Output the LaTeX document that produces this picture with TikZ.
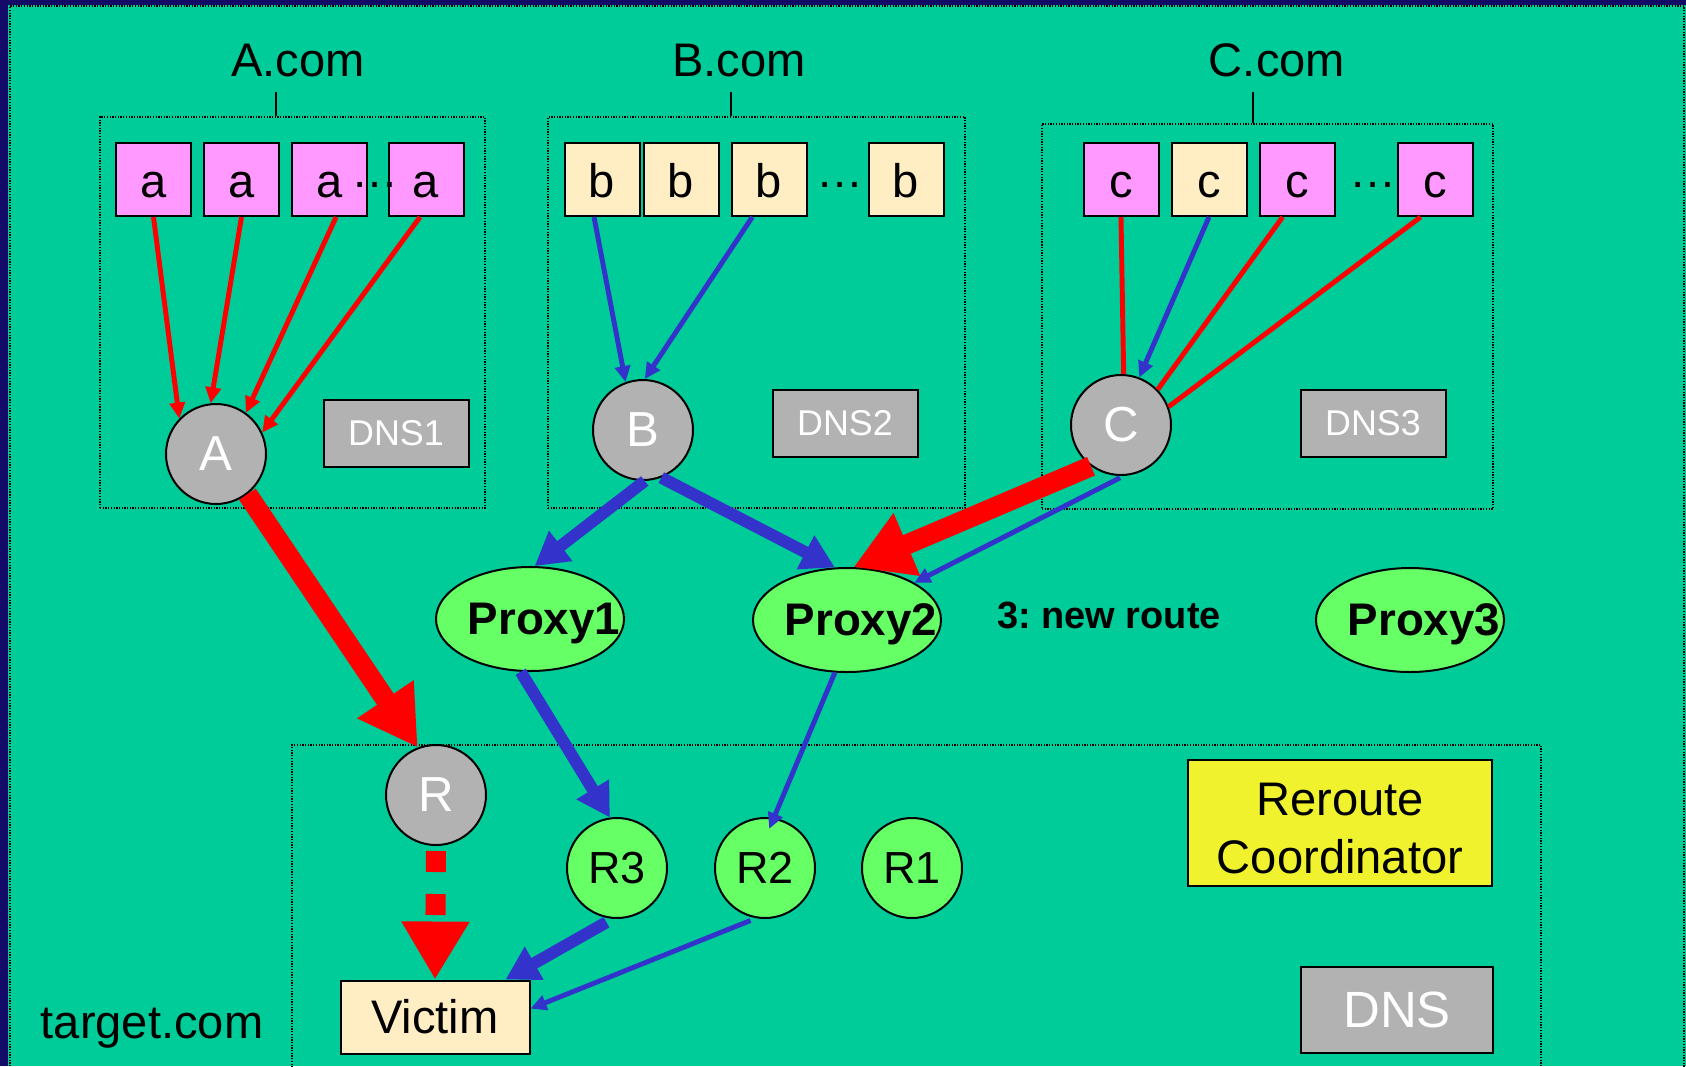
\documentclass[tikz,border=0pt]{standalone}
\usepackage{fontspec}
\setmainfont{Liberation Sans}
\usetikzlibrary{arrows.meta,shapes.geometric}

\definecolor{slidenavy}{RGB}{18,12,104}
\definecolor{slideteal}{RGB}{0,204,153}
\definecolor{hostpink}{RGB}{255,153,255}
\definecolor{hostcream}{RGB}{255,238,196}
\definecolor{hubgray}{RGB}{178,178,178}
\definecolor{nodegreen}{RGB}{102,255,102}
\definecolor{coordyellow}{RGB}{240,242,46}
\definecolor{routeblue}{RGB}{51,51,204}
\definecolor{attackred}{RGB}{255,0,0}

% proxy text, kept out of the ellipse size
\newcommand{\proxylabel}[1]{\makebox[0pt]{\hspace{2.8mm}#1}}

\begin{document}
\begin{tikzpicture}[x=0.1mm,y=-0.1mm]
\tikzset{every node/.style={font=\fontsize{13.4}{16}\selectfont},
  zone/.style={draw, line width=0.4pt, dash pattern=on 0.37pt off 0.4pt},
  host/.style={draw, line width=0.57pt, minimum width=7.5mm, minimum height=7.3mm,
    inner sep=0pt, text height=3.5mm, text depth=0pt},
  hub/.style={circle, draw, line width=0.57pt, fill=hubgray, text=white,
    minimum size=10mm, inner sep=0pt, font=\fontsize{14}{16}\selectfont},
  dnsbox/.style={draw, line width=0.57pt, fill=hubgray, text=white,
    minimum width=14.5mm, minimum height=6.7mm, font=\fontsize{10.2}{12}\selectfont},
  proxy/.style={ellipse, draw, line width=0.57pt, fill=nodegreen, minimum width=18.8mm,
    minimum height=10.4mm, inner sep=0pt, text depth=0pt,
    font=\bfseries\fontsize{13}{15}\selectfont},
  router/.style={circle, draw, line width=0.57pt, fill=nodegreen, minimum size=10mm,
    inner sep=0pt, font=\fontsize{12.8}{15}\selectfont},
  thinline/.style={line width=1.4pt},
  thinarrow/.style={line width=1.4pt, -{Triangle[length=1.6mm, width=1.5mm]}},
  widearrow/.style={routeblue, line width=3.4pt, -{Triangle[length=3.3mm, width=3.6mm]}},
  floodarrow/.style={attackred, line width=5.7pt, -{Triangle[length=5.8mm, width=6.4mm]}}}
\useasboundingbox (0,0) rectangle (1686,1066);
\clip (0,0) rectangle (1686,1066);

% slide background
\fill[slidenavy] (0,0) rectangle (1686,1066);
\fill[slideteal] (8,5) rectangle (1686,1066);
\draw[zone] (10,1080) -- (10,6) -- (1684,6) -- (1684,1080);

% zones of each domain
\node[zone, minimum width=38.5mm, minimum height=39.1mm] (abox) at (292.5,312.5) {};
\node[zone, minimum width=41.7mm, minimum height=39.1mm] (bbox) at (756.5,312.5) {};
\node[zone, minimum width=45.1mm, minimum height=38.5mm] (cbox) at (1267.5,316.5) {};
\node[zone, minimum width=124.9mm, minimum height=35.5mm] (tbox) at (916.5,922.5) {};

\node[anchor=base] (acom) at (298,76) {A.com};
\node[anchor=base] (bcom) at (739,76) {B.com};
\node[anchor=base] (ccom) at (1277,76) {C.com};
\coordinate (atick) at (276,92);
\coordinate (btick) at (731,92);
\coordinate (ctick) at (1253,92);
\draw[line width=0.4pt] (atick) -- (atick |- abox.north);
\draw[line width=0.4pt] (btick) -- (btick |- bbox.north);
\draw[line width=0.4pt] (ctick) -- (ctick |- cbox.north);

% clients
\node[host, fill=hostpink] (a1) at (153.5,179.5) {a};
\node[host, fill=hostpink] (a2) at (241.5,179.5) {a};
\node[host, fill=hostpink] (a3) at (329.5,179.5) {a};
\node[host, fill=hostpink] (a4) at (426,179.5) {a};
\node[host, fill=hostcream] (b1) at (602,179.5) {b};
\node[host, fill=hostcream] (b2) at (681,179.5) {b};
\node[host, fill=hostcream] (b3) at (769,179.5) {b};
\node[host, fill=hostcream] (b4) at (906,179.5) {b};
\node[host, fill=hostpink] (c1) at (1121,179.5) {c};
\node[host, fill=hostcream] (c2) at (1209,179.5) {c};
\node[host, fill=hostpink] (c3) at (1297,179.5) {c};
\node[host, fill=hostpink] (c4) at (1435,179.5) {c};
\node[anchor=base] (adots) at (375,187) {…};
\node[anchor=base] (bdots) at (840,187) {…};
\node[anchor=base] (cdots) at (1373,187) {…};

% resolvers and dns servers
\node[hub] (A) at (216,454) {A};
\node[hub] (B) at (643,430) {B};
\node[hub] (C) at (1121,425) {C};
\node[dnsbox] (dns1) at (396,433) {DNS1};
\node[dnsbox] (dns2) at (845,423) {DNS2};
\node[dnsbox] (dns3) at (1373,423) {DNS3};

% proxies
\node[proxy] (Proxy1) at (530,619) {\proxylabel{Proxy1}};
\node[proxy] (Proxy2) at (847,620) {\proxylabel{Proxy2}};
\node[proxy] (Proxy3) at (1410,620) {\proxylabel{Proxy3}};
\node[anchor=base, font=\bfseries\fontsize{10.8}{12}\selectfont] (newroute) at (1109,628) {3:\ new route};

% target side
\node[hub] (R) at (436,795) {R};
\node[router] (R3) at (617,868) {R3};
\node[router] (R2) at (765,868) {R2};
\node[router] (R1) at (912,868) {R1};
\node[draw, line width=0.57pt, fill=hostcream, minimum width=18.9mm, minimum height=7.3mm] (Victim) at (435,1017) {Victim};
\node[draw, line width=0.57pt, fill=coordyellow, minimum width=30.4mm, minimum height=12.6mm,
  label={[align=center, yshift=-0.6mm, font=\fontsize{13.4}{16.5}\selectfont]center:{Reroute\\Coordinator}}] (coord) at (1340,823) {};
\node[dnsbox, minimum width=19.2mm, minimum height=8.6mm, font=\fontsize{14.5}{17}\selectfont] (dns) at (1397,1010) {DNS};
\node[anchor=base] (target) at (152,1038) {target.com};

% queries to the resolvers
\draw[thinarrow, attackred] (a1.south) -- (A.136);
\draw[thinarrow, attackred] (a2.south) -- (A.96);
\draw[thinarrow, attackred] (a3.-80) -- (A.54);
\draw[thinarrow, attackred] (a4.-99) -- (A.25);
\draw[thinarrow, routeblue] (b1.-102) -- (B.110);
\draw[thinarrow, routeblue] (b3.-114) -- (B.88);
\draw[thinline, attackred] (c1.south) -- (C.87);
\draw[thinarrow, routeblue] (c2.south) -- (C.69);
\draw[thinline, attackred] (c3.-111) -- (C.44);
\draw[thinline, attackred] (c4.-111) -- (C.21);

% traffic towards the victim
\draw[floodarrow] (A.-52) -- (R.111);
\draw[widearrow] (B.-88) -- (Proxy1.85);
\draw[widearrow] (B.-69) -- (Proxy2.103);
\draw[floodarrow] (C.-126) -- (Proxy2.83);
\draw[thinarrow, routeblue, shorten <=0.4mm] (C.-87) -- (Proxy2.29);
\draw[widearrow] (Proxy1.-100) -- (R3.98);
\draw[thinarrow, routeblue, shorten >=-1.2mm] (Proxy2.-103) -- (R2.80);
\draw[widearrow, shorten <=0.7mm] (R3.-95) -- (Victim.28);
\draw[thinarrow, routeblue, shorten <=0.6mm] (R2.-100) -- (Victim.5);
\draw[floodarrow, dash pattern=on 2.1mm off 2.2mm, shorten <=0.5mm] (R.south) -- (Victim.north);

\end{tikzpicture}
\end{document}
